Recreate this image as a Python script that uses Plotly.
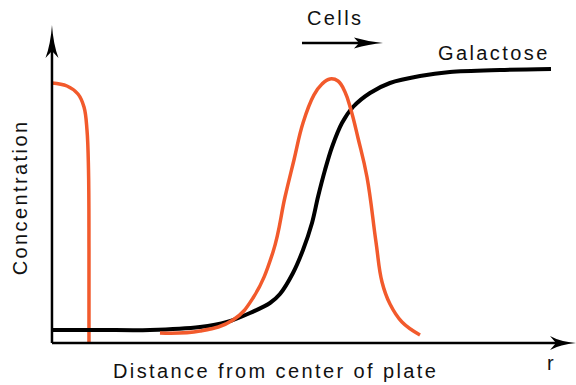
import plotly.graph_objects as go

# Galactose concentration profile vs. distance from plate centre
galactose_r = [0, 9.16, 18.70, 28.24, 33.40, 37.79, 41.60, 43.51, 45.99, 47.90, 49.62,
               50.76, 52.10, 53.44, 55.34, 57.44, 60.69, 64.50, 70.23, 75.95, 85.50, 95.23]
galactose_c = [4.09, 4.09, 4.09, 5.03, 6.60, 9.43, 12.58, 15.41, 22.01, 29.25, 37.74,
               45.91, 54.40, 61.64, 69.18, 74.21, 78.62, 81.76, 83.96, 85.22, 85.85, 86.16]

# Travelling band of cells
band_r = [20.61, 28.24, 34.54, 38.36, 42.18, 44.47, 46.18, 47.90, 50.00, 51.53, 53.05,
          54.58, 55.92, 57.06, 58.40, 60.11, 61.83, 62.98, 64.50, 66.79, 70.23]
band_c = [3.14, 3.77, 7.23, 14.15, 28.62, 45.91, 57.55, 69.18, 78.00, 81.45, 83.02,
          82.39, 78.93, 73.27, 64.47, 52.20, 31.76, 19.18, 12.26, 6.60, 2.52]

# Cells remaining near the centre
centre_r = [0, 2.86, 4.96, 6.11, 6.68, 6.97, 7.06, 7.06]
centre_c = [81.76, 80.82, 78.30, 74.21, 66.98, 54.40, 29.25, 0]

BLACK = "#000000"
ORANGE = "#F25A2C"
FONT = "Liberation Sans, Arial, Helvetica, sans-serif"


def spaced(text, gap=2.4):
    return f'<span style="letter-spacing:{gap}px">{text}</span>'


fig = go.Figure()

fig.add_trace(go.Scatter(x=centre_r, y=centre_c, mode="lines",
                         line=dict(color=ORANGE, width=3.5, shape="spline", smoothing=1.1),
                         hoverinfo="skip"))
fig.add_trace(go.Scatter(x=galactose_r, y=galactose_c, mode="lines",
                         line=dict(color=BLACK, width=4, shape="spline", smoothing=0.9),
                         hoverinfo="skip"))
fig.add_trace(go.Scatter(x=band_r, y=band_c, mode="lines",
                         line=dict(color=ORANGE, width=3.5, shape="spline", smoothing=1.2),
                         hoverinfo="skip"))

shapes = [
    # axes
    dict(type="line", x0=0, y0=0, x1=96.2, y1=0, line=dict(color=BLACK, width=2.5)),
    dict(type="line", x0=0, y0=0, x1=0, y1=91.8, line=dict(color=BLACK, width=2.5)),
    # arrowheads
    dict(type="path", path="M 0 100 Q -0.25 94 -1.24 89.6 L 0 91.8 L 1.24 89.6 Q 0.25 94 0 100 Z",
         fillcolor=BLACK, line=dict(width=0)),
    dict(type="path", path="M 100 0 Q 97 0.4 95.04 2.2 L 96.18 0 L 95.04 -2.2 Q 97 -0.4 100 0 Z",
         fillcolor=BLACK, line=dict(width=0)),
    # direction of cell movement
    dict(type="line", x0=47.71, y0=94.34, x1=58.8, y1=94.34, line=dict(color=BLACK, width=2.5)),
    dict(type="path",
         path="M 63.17 94.34 Q 60.5 94.7 57.63 96.07 L 58.59 94.34 L 57.63 92.61 Q 60.5 94.0 63.17 94.34 Z",
         fillcolor=BLACK, line=dict(width=0)),
]

annotations = [
    dict(x=42.56, y=-8.81, text=spaced("Distance from center of plate"), showarrow=False,
         xanchor="center", yanchor="middle"),
    dict(x=95.04, y=-6.29, text="r", showarrow=False, xanchor="center", yanchor="middle"),
    dict(x=-6.15, y=45.75, text=spaced("Concentration"), textangle=-90, showarrow=False,
         xanchor="center", yanchor="middle"),
    dict(x=54.0, y=102.2, text=spaced("Cells"), showarrow=False, xanchor="center", yanchor="middle"),
    dict(x=84.26, y=91.19, text=spaced("Galactose"), showarrow=False, xanchor="center",
         yanchor="middle"),
]

fig.update_layout(
    width=576, height=385,
    margin=dict(l=0, r=0, t=0, b=0),
    paper_bgcolor="white", plot_bgcolor="white",
    showlegend=False,
    font=dict(family=FONT, size=20, color="#111111"),
    xaxis=dict(range=[-9.92, 100], visible=False, fixedrange=True),
    yaxis=dict(range=[-13.21, 107.86], visible=False, fixedrange=True),
    shapes=shapes,
    annotations=annotations,
)

fig.write_html("out.html", config={"displayModeBar": False, "staticPlot": True})
